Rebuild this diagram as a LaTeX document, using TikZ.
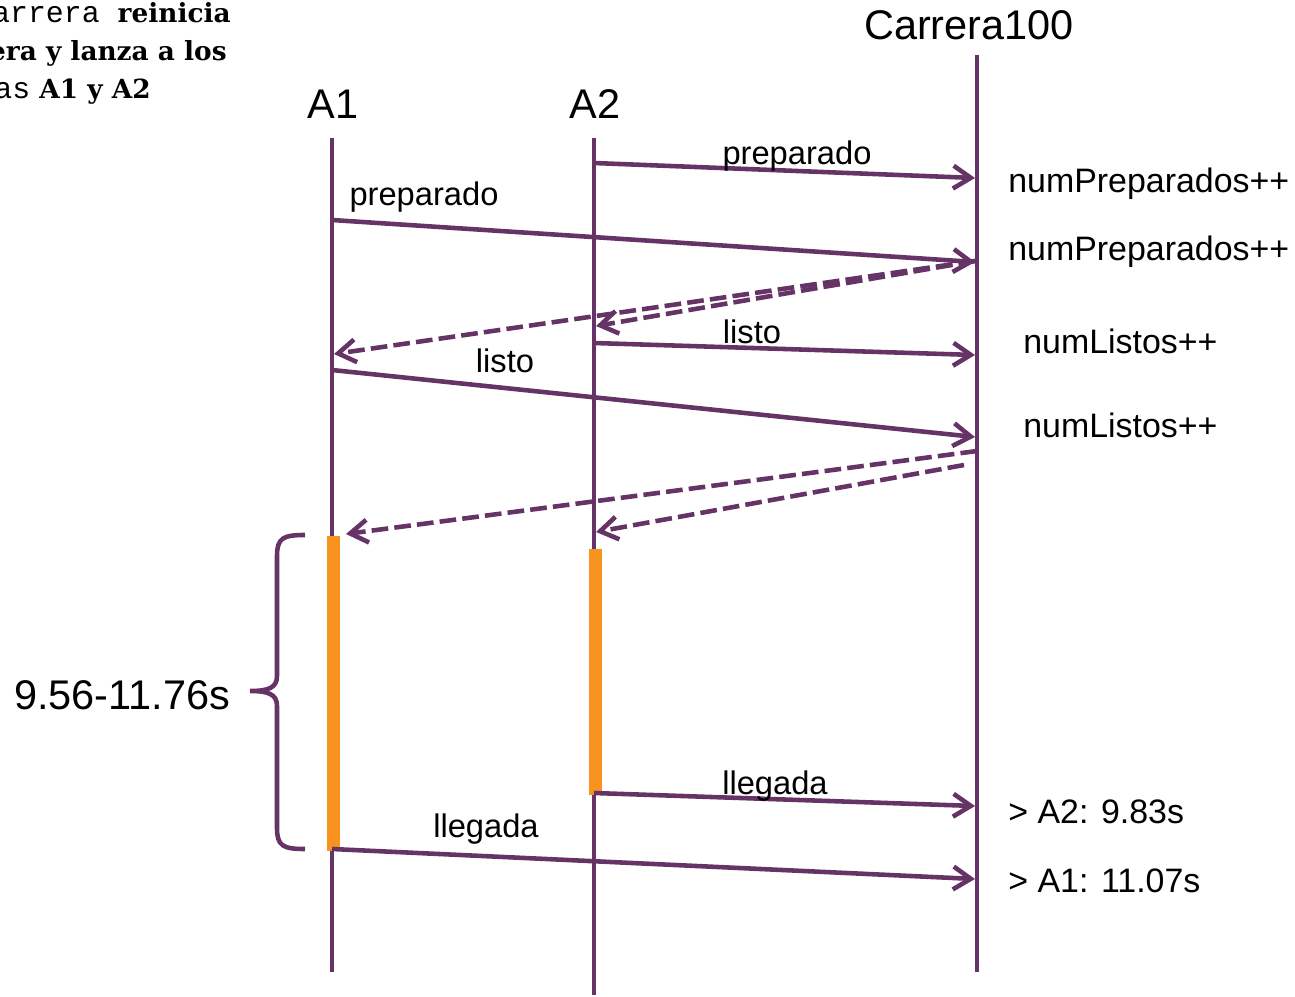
\documentclass[tikz,border=0pt]{standalone}
\usepackage{fontspec}
\setmainfont{Liberation Sans}
\newfontfamily\monofam{Liberation Mono}
\newfontfamily\slabfam{DejaVu Serif}
\usetikzlibrary{arrows.meta}
\definecolor{morado}{RGB}{102,51,102}
\definecolor{naranja}{RGB}{247,147,30}

\begin{document}
\begin{tikzpicture}[x=0.02cm, y=-0.02cm,
  vida/.style={draw=morado, line width=2.6pt},
  msg/.style={vida, -{Straight Barb[length=10pt,width=13pt]}},
  resp/.style={msg, dash pattern=on 9.5pt off 3.5pt},
  actividad/.style={draw=naranja, line width=7.4pt},
  lbl/.style={inner sep=0pt, anchor=base, font=\fontsize{18.6}{22}\selectfont},
  nota/.style={inner sep=0pt, anchor=base west, font=\fontsize{19.3}{23}\selectfont},
  titulo/.style={inner sep=0pt, anchor=base, font=\fontsize{23.6}{28}\selectfont},
  intro/.style={inner sep=0pt, anchor=base east, font=\fontsize{15}{18}\selectfont}]
  \useasboundingbox (0,0) rectangle (1295,997);

  % Texto de la izquierda (cortado)
  \node[intro] (intro1) at (231,23) {{\monofam\fontsize{17}{18}\selectfont arrera }{\slabfam\bfseries reinicia}};
  \node[intro] (intro2) at (227,61) {{\slabfam\bfseries era y lanza a los}};
  \node[intro] (intro3) at (151,99) {{\monofam\fontsize{17}{18}\selectfont as}{\slabfam\bfseries\ A1 y A2}};

  % Cabeceras
  \node[titulo] (A1) at (333,119) {A1};
  \node[titulo] (A2) at (595,119) {A2};
  \node[titulo] (C100) at (969,40) {Carrera100};

  % Puntos de las lineas de vida
  \foreach \n/\x/\y in {a1top/332/138, a1bot/332/972, a2top/594/138, a2bot/594/995,
      ctop/977/55, cbot/977/972,
      a2p/594/163, cp2/975/178, a1p/332/220, cp1/975/262,
      cr/975/261, a2r/596/326, a1r/334/354,
      a2l/594/343, cl2/975/355, a1l/332/370, cl1/975/437,
      cs1/977/451, a1s/346/534, cs2/964/465, a2s/596/532,
      a2f/594/793, cf2/975/806, a1f/332/849, cf1/975/879}
    \coordinate (\n) at (\x,\y);

  % Lineas de vida
  \draw[vida] (a1top) -- (a1bot);
  \draw[vida] (a2top) -- (a2bot);
  \draw[vida] (ctop) -- (cbot);

  % Carrera en curso
  \draw[actividad] (333,536) -- (333,851);
  \draw[actividad] (595,549) -- (595,795);

  % Mensajes
  \draw[msg] (a2p) -- (cp2);
  \draw[msg] (a1p) -- (cp1);
  \draw[resp] (cr) -- (a2r);
  \draw[resp] (cr) -- (a1r);
  \draw[msg] (a2l) -- (cl2);
  \draw[msg] (a1l) -- (cl1);
  \draw[resp] (cs1) -- (a1s);
  \draw[resp] (cs2) -- (a2s);
  \draw[msg] (a2f) -- (cf2);
  \draw[msg] (a1f) -- (cf1);

  \node[lbl] (lp2) at (797,165) {preparado};
  \node[lbl] (lp1) at (424,205) {preparado};
  \node[lbl] (ll2) at (752,343) {listo};
  \node[lbl] (ll1) at (505,372) {listo};
  \node[lbl] (lf2) at (775,794) {llegada};
  \node[lbl] (lf1) at (486,837) {llegada};

  % Contadores
  \node[nota] (n1) at (1008,193) {numPreparados++};
  \node[nota] (n2) at (1008,260) {numPreparados++};
  \node[nota] (n3) at (1023,353) {numListos++};
  \node[nota] (n4) at (1023,437) {numListos++};
  \node[nota] (t2) at (1008,823) {> A2: 9.83s};
  \node[nota] (t1) at (1008,892) {> A1: 11.07s};

  % Llave con el rango de tiempos
  \draw[vida] (305,535) .. controls (283,535) and (277,538) .. (277,556) -- (277,676)
    .. controls (277,688) and (268,691) .. (250,691)
    .. controls (268,691) and (277,694) .. (277,706) -- (277,828)
    .. controls (277,846) and (283,849) .. (305,849);
  \node[titulo] (rango) at (122,709) {9.56-11.76s};
\end{tikzpicture}
\end{document}
